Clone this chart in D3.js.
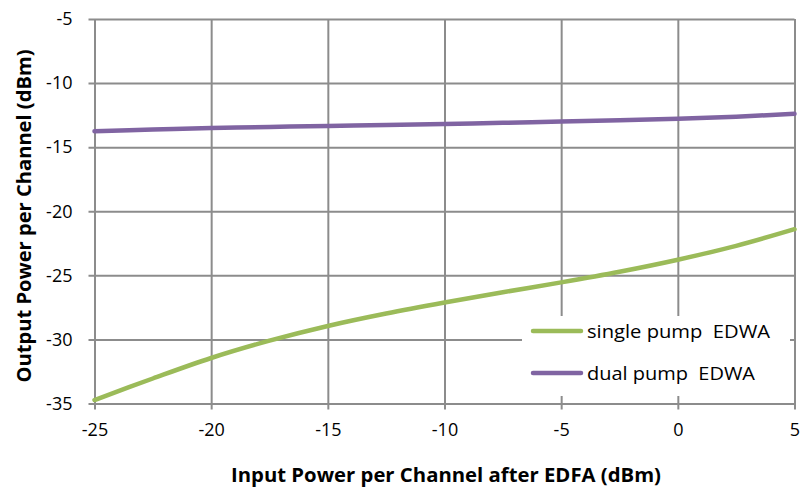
<!DOCTYPE html>
<html><head><meta charset="utf-8">
<script src="https://cdn.jsdelivr.net/npm/d3@7"></script>
<style>body{margin:0;background:#fff}svg{display:block;font-family:"Open Sans","Liberation Sans",sans-serif}</style>
</head><body><svg id="c" width="800" height="488"></svg>
<script>
const xVals = [-25, -22.5, -20, -17.5, -15, -12.5, -10, -7.5, -5, -2.5, 0, 2.5, 5];
const singlePump = [-34.73, -33.05, -31.45, -30.1, -28.95, -27.98, -27.12, -26.32, -25.55, -24.72, -23.78, -22.7, -21.4];
const dualPump = [-13.75, -13.62, -13.5, -13.42, -13.35, -13.28, -13.2, -13.1, -13.0, -12.9, -12.78, -12.62, -12.4];
const xTicks = [-25, -20, -15, -10, -5, 0, 5];
const yTicks = [-35, -30, -25, -20, -15, -10, -5];
const seriesNames = ["single pump  EDWA", "dual pump  EDWA"];

const svg = d3.select("#c");
const L = 94.5, R = 794.5, T = 19, B = 403.5;
const x = d3.scaleLinear().domain([-25, 5]).range([L, R]);
const y = d3.scaleLinear().domain([-35, -5]).range([B, T]);
const grid = "#8c8c8c";
const fmt = d => String(d);

const gx = svg.append("g").attr("transform", `translate(0,${B})`)
  .call(d3.axisBottom(x).tickValues(xTicks).tickSize(6).tickPadding(14).tickFormat(fmt));
gx.selectAll(".tick line").attr("y1", -(B - T)).attr("y2", 6).attr("stroke", grid).attr("stroke-width", 2);
gx.select(".domain").remove();
const gy = svg.append("g").attr("transform", `translate(${L},0)`)
  .call(d3.axisLeft(y).tickValues(yTicks).tickSize(6).tickPadding(16).tickFormat(fmt));
gy.selectAll(".tick line").attr("x1", -6).attr("x2", R - L).attr("stroke", grid).attr("stroke-width", 2);
gy.select(".domain").remove();
svg.selectAll(".tick text").attr("font-size", 18).attr("fill", "#000").attr("font-family", "Open Sans, sans-serif");

const line = d3.line().x((d, i) => x(xVals[i])).y(d => y(d)).curve(d3.curveCatmullRom);
const colors = ["#9BBB59", "#8064A2"];
[singlePump, dualPump].forEach((s, k) => {
  svg.append("path").attr("d", line(s)).attr("fill", "none").attr("stroke", colors[k]).attr("stroke-width", 4.5).attr("stroke-linecap", "round");
});

// legend
const lg = svg.append("g");
lg.append("rect").attr("x", 522).attr("y", 316).attr("width", 268).attr("height", 80).attr("fill", "#fff");
seriesNames.forEach((n, i) => {
  const yy = 331 + i * 42;
  lg.append("line").attr("x1", 533).attr("x2", 581).attr("y1", yy).attr("y2", yy).attr("stroke", colors[i]).attr("stroke-width", 4.5).attr("stroke-linecap", "round");
  lg.append("text").attr("x", 587).attr("y", yy + 7).attr("font-size", 18).attr("textLength", i === 0 ? 183 : 168).attr("lengthAdjust", "spacingAndGlyphs").attr("xml:space", "preserve").text(n);
});

svg.append("text").attr("x", 446).attr("y", 482).attr("text-anchor", "middle").attr("font-size", 20).attr("font-weight", "bold").attr("textLength", 430).attr("lengthAdjust", "spacingAndGlyphs").text("Input Power per Channel after EDFA (dBm)");
svg.append("text").attr("transform", "translate(31,216) rotate(-90)").attr("text-anchor", "middle").attr("font-size", 20).attr("font-weight", "bold").attr("textLength", 333).attr("lengthAdjust", "spacingAndGlyphs").text("Output Power per Channel (dBm)");
</script></body></html>
